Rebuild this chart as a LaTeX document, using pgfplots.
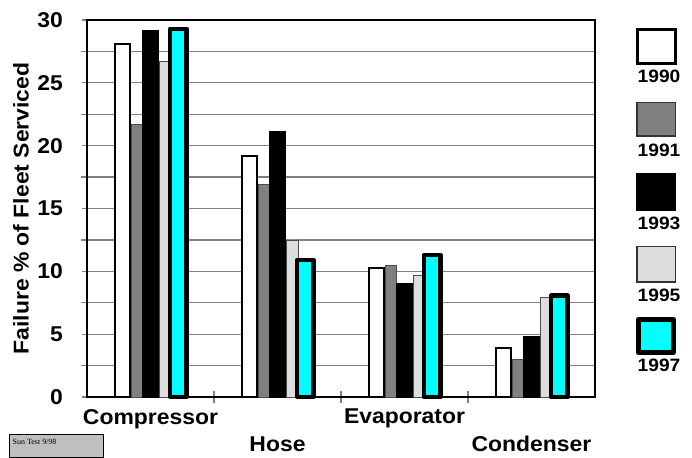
\documentclass[border=0pt]{standalone}
\usepackage{fontspec}
\setmainfont{Liberation Sans}[FakeStretch=1.07]
\newfontfamily\notefont{Liberation Serif}
\usepackage{pgfplots}
\usepackage{pgfplotstable}
\pgfplotsset{compat=1.18}
\definecolor{midgray}{RGB}{128,128,128}
\definecolor{palegray}{RGB}{221,221,221}
\definecolor{fleetcyan}{RGB}{0,255,255}

% failure % of fleet serviced, per part (0 compressor, 1 hose, 2 evaporator, 3 condenser)
\pgfplotstableread{
part y1990 y1991 y1993 y1995 y1997
0    28.1  21.7  29.15 26.7  29.3
1    19.2  16.9  21.1  12.5  10.9
2    10.25 10.5  9.0   9.65  11.3
3    3.9   3.0   4.8   7.9   8.07
}\failures

\begin{document}
\begin{tikzpicture}[x=1bp,y=1bp]
\useasboundingbox (0,0) rectangle (692,458);
\begin{axis}[at={(87bp,61bp)}, anchor=south west, scale only axis,
    width=508bp, height=377bp, clip=false,
    xmin=-0.5, xmax=3.5, ymin=0, ymax=30,
    xtick={0,1,2,3},
    xticklabels={Compressor,{\vphantom{C}\\Hose},Evaporator,{\vphantom{C}\\Condenser}},
    minor x tick num=1,
    ytick={0,5,...,30}, minor y tick num=1,
    xtick pos=bottom, ytick pos=left,
    ymajorgrids, yminorgrids, grid style={midgray, line width=1.3bp},
    axis line style={black, line width=1.3bp},
    tick align=center, major tick length=10bp, minor tick length=12bp,
    tick style={midgray, line width=1.3bp},
    major x tick style={draw=none},
    /pgf/number format/assume math mode=true,
    yticklabel style={font=\fontsize{21.5}{24}\selectfont\bfseries, inner sep=0pt,
      anchor=east, xshift=-19bp},
    xticklabel style={font=\fontsize{21.5}{27}\selectfont\bfseries, inner sep=0pt,
      anchor=north, align=center, yshift=-7bp},
    ylabel={Failure \% of Fleet Serviced},
    ylabel style={font=\fontsize{21.5}{24}\selectfont\bfseries, inner sep=0pt,
      at={(axis description cs:-0.13,0.5)}, anchor=center}]
  \addplot[ybar, bar width=15.5bp, bar shift=-28bp, fill=white, draw=black,
    line width=2bp] table[x=part, y=y1990] {\failures};
  \addplot[ybar, bar width=10.7bp, bar shift=-13.75bp, fill=midgray, draw=black!70,
    line width=0.8bp] table[x=part, y=y1991] {\failures};
  \addplot[ybar, bar width=16bp, bar shift=0.3bp, fill=black, draw=black,
    line width=0.8bp] table[x=part, y=y1993] {\failures};
  \addplot[ybar, bar width=11.45bp, bar shift=14.9bp, fill=palegray, draw=black!70,
    line width=0.8bp] table[x=part, y=y1995] {\failures};
  \addplot[ybar, bar width=16.5bp, bar shift=27.9bp, fill=fleetcyan, draw=black,
    line width=4.5bp, line join=round] table[x=part, y=y1997] {\failures};
\end{axis}

% legend: swatch with the year below it
\draw[black, line width=3bp, fill=white] (637.5,394.5) rectangle (675.5,428.5);
\draw[black!80, line width=1.5bp, fill=midgray] (636.75,321.75) rectangle (675.25,355.25);
\draw[black, line width=1.5bp, fill=black] (636.75,247.75) rectangle (675.25,284.25);
\draw[black!80, line width=1.5bp, fill=palegray] (636.75,175.75) rectangle (675.25,211.25);
\draw[black, line width=5bp, line join=round, fill=fleetcyan] (638.5,105.5) rectangle (673.5,138.5);
\begin{scope}[every node/.style={anchor=base, inner sep=0pt,
    font=\fontsize{18}{20}\selectfont\bfseries}]
  \node at (659,375) {1990};
  \node at (659,301) {1991};
  \node at (659,228) {1993};
  \node at (659,156) {1995};
  \node at (659,86) {1997};
\end{scope}

\draw[black, line width=1bp, fill=black!25] (9.5,0.5) rectangle (103,23.5);
\node[anchor=base west, inner sep=0pt, font=\notefont\fontsize{8}{9}\selectfont]
  at (12.5,13) {Sun Test 9/98};
\end{tikzpicture}
\end{document}
